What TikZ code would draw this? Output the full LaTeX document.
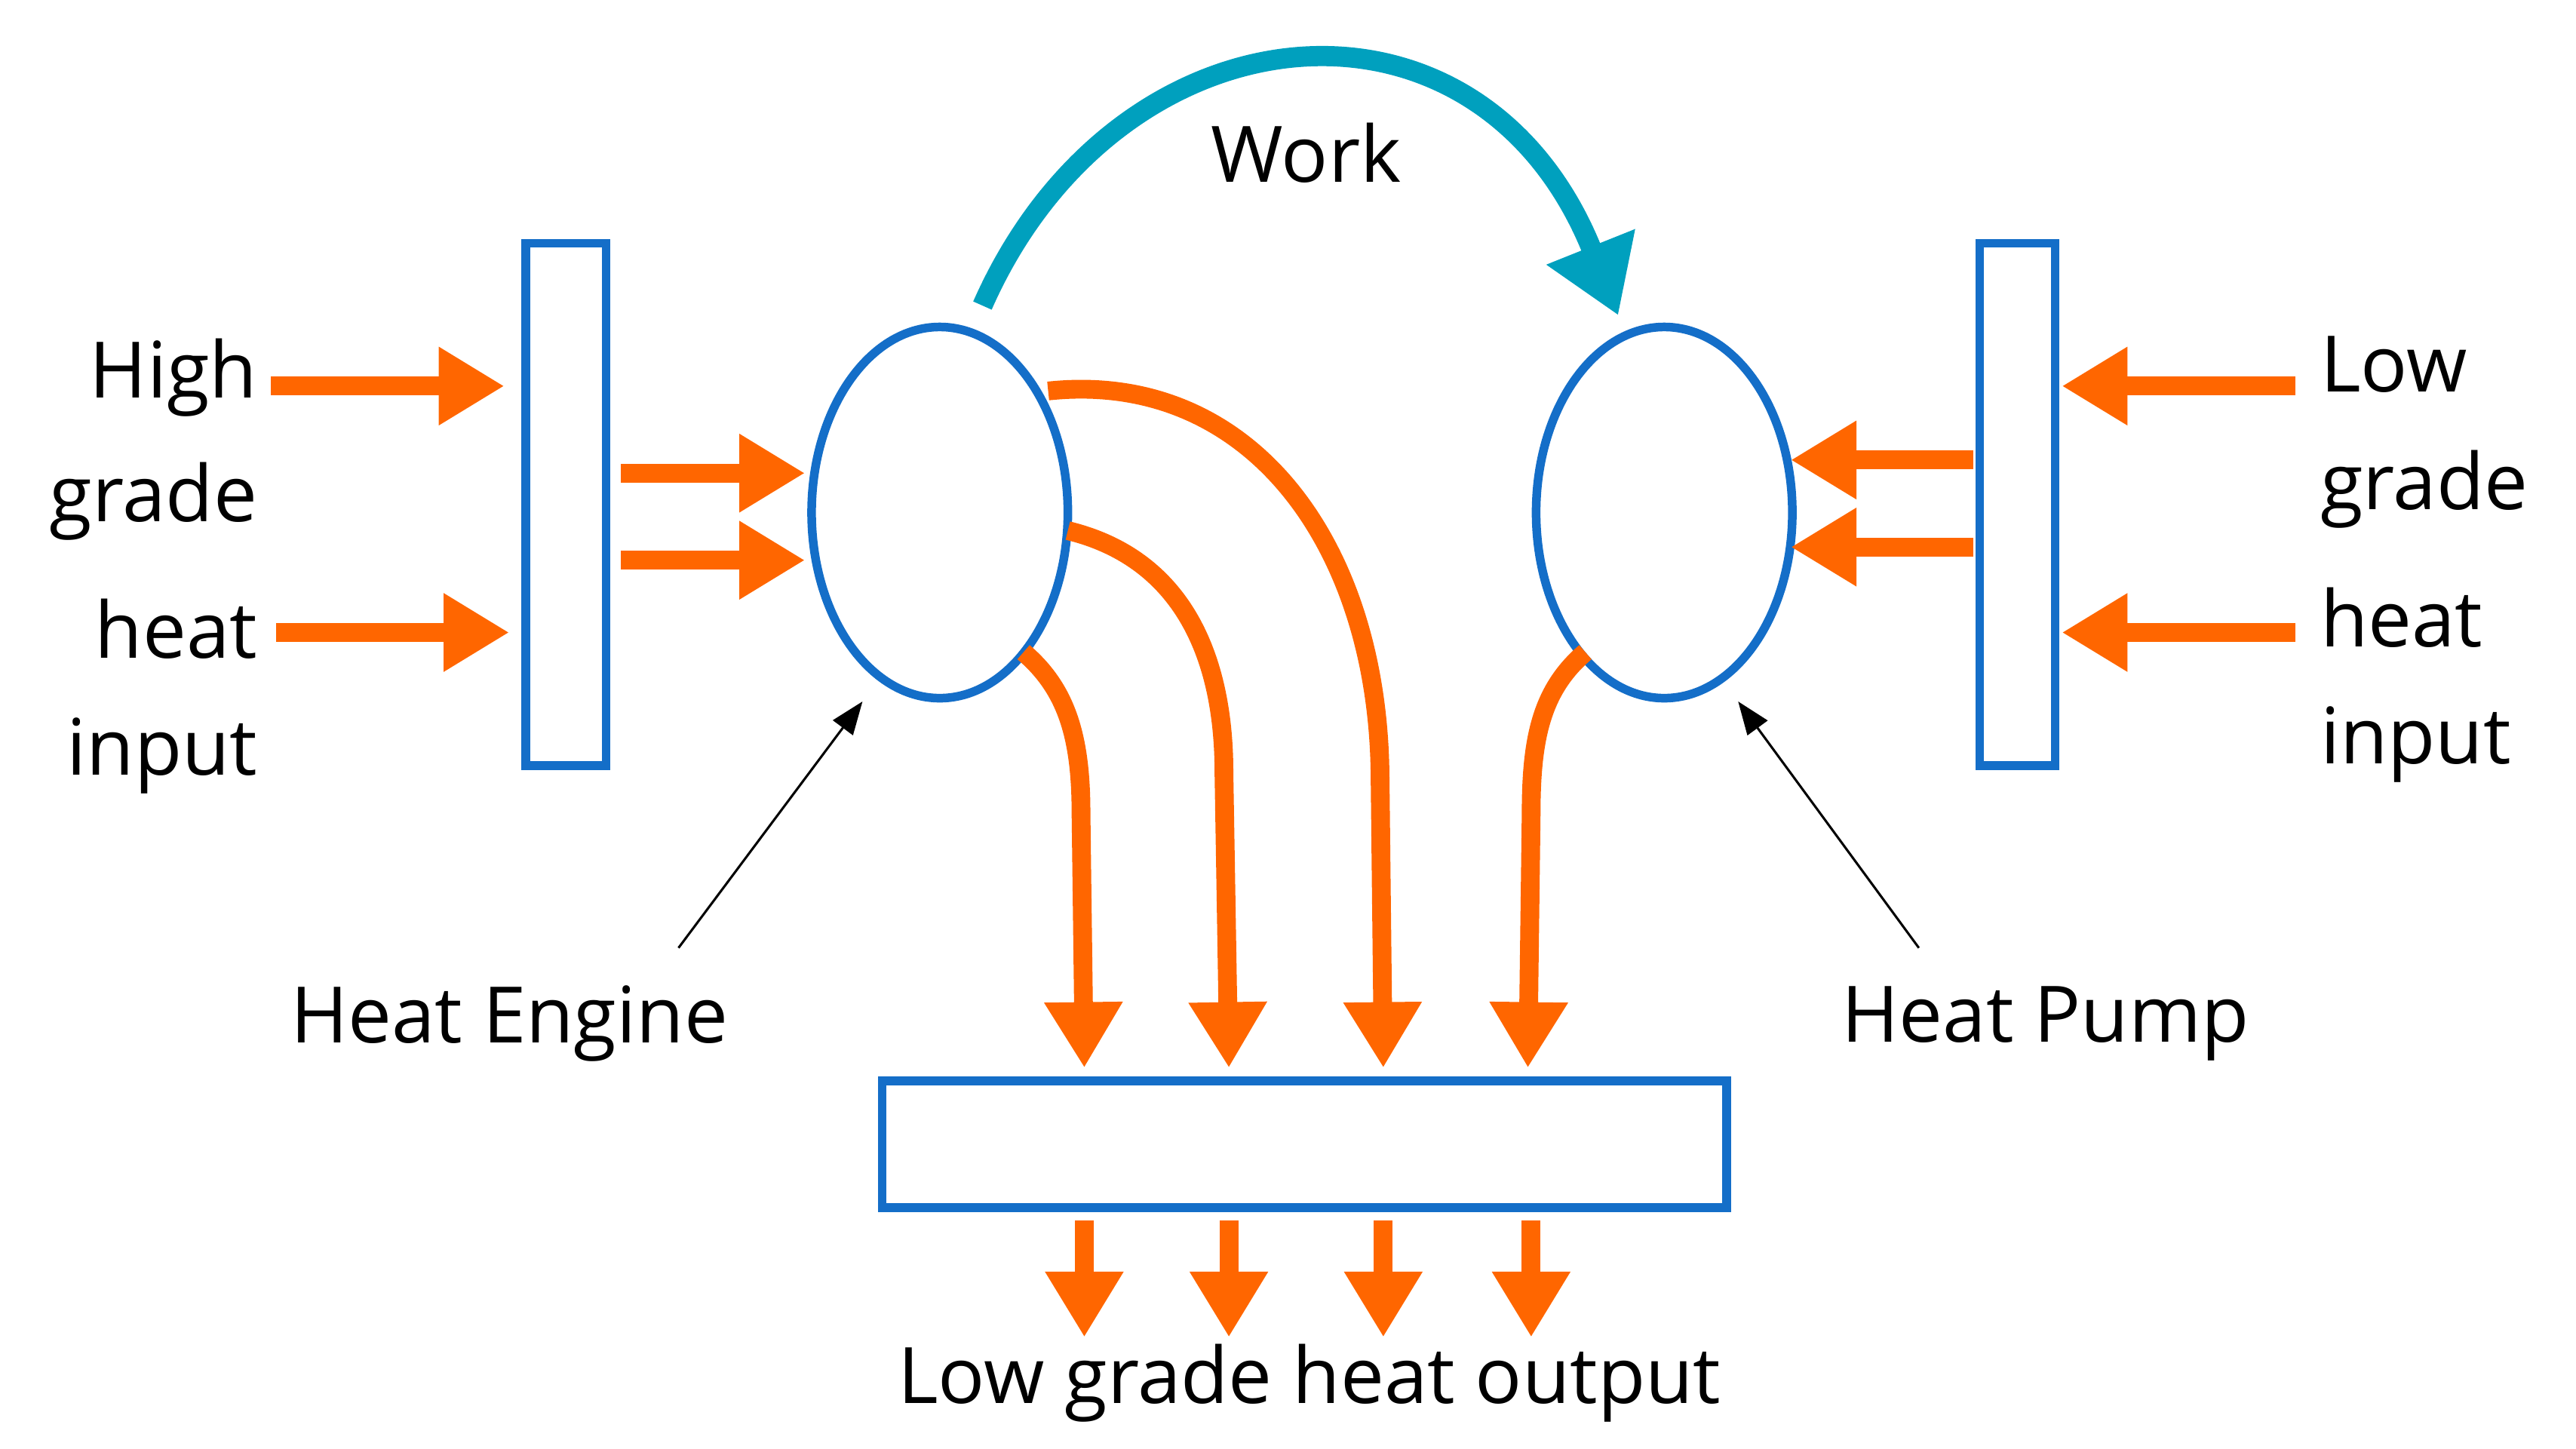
\documentclass[tikz,border=0pt]{standalone}
\usepackage{fontspec}
\setmainfont{Open Sans}
\usetikzlibrary{arrows.meta,shapes.geometric}
\definecolor{og}{RGB}{255,102,0}
\definecolor{bl}{RGB}{20,110,200}
\definecolor{tl}{RGB}{0,160,190}
\begin{document}
\begin{tikzpicture}[x=0.02cm,y=-0.02cm,
 box/.style={draw=bl,line width=3pt,inner sep=0,fill=white},
 heat/.style={draw=og,line width=6.5pt,-{Triangle[width=0.9cm,length=0.8cm]}},
 txt/.style={font=\fontsize{27}{30}\selectfont,inner sep=0},
 pointer/.style={draw=black,line width=0.8pt,-{Triangle[width=0.3cm,length=0.4cm]}}]
\useasboundingbox (0,0) rectangle (1568,882);
\node[box,minimum width=0.98cm,minimum height=6.36cm] (L) at (344.5,307) {};
\node[box,minimum width=0.92cm,minimum height=6.36cm] (R) at (1228,307) {};
\node[box,minimum width=10.28cm,minimum height=1.54cm] (B) at (794,696.5) {};
\node[box,ellipse,minimum width=3.12cm,minimum height=4.52cm] (E) at (572,312) {};
\node[box,ellipse,minimum width=3.12cm,minimum height=4.52cm] (P) at (1013,312) {};
% texts
\node[txt,anchor=east] (h1) at (157,230) {High};
\node[txt,anchor=east] (h2) at (157,305) {grade};
\node[txt,anchor=east] (h3) at (157,383) {heat};
\node[txt,anchor=east] (h4) at (157,460) {input};
\node[txt,anchor=west] (l1) at (1412,222) {Low};
\node[txt,anchor=west] (l2) at (1412,298) {grade};
\node[txt,anchor=west] (l3) at (1412,376) {heat};
\node[txt,anchor=west] (l4) at (1412,453) {input};
\node[txt] (W) at (795,93) {Work};
\node[txt] (HE) at (310,623) {Heat Engine};
\node[txt] (HP) at (1245,623) {Heat Pump};
\node[txt] (O) at (797,842) {Low grade heat output};
% coordinates
\coordinate (a1) at (165,235); \coordinate (a1e) at (307,235);
\coordinate (a2) at (168,385); \coordinate (a2e) at (310,385);
\coordinate (a3) at (378,288); \coordinate (a3e) at (490,288);
\coordinate (a4) at (378,341); \coordinate (a4e) at (490,341);
\coordinate (b1) at (1397,235); \coordinate (b1e) at (1255,235);
\coordinate (b2) at (1397,385); \coordinate (b2e) at (1255,385);
\coordinate (b3) at (1201,280); \coordinate (b3e) at (1090,280);
\coordinate (b4) at (1201,333); \coordinate (b4e) at (1090,333);
\draw[heat] (a1)--(a1e); \draw[heat] (a2)--(a2e);
\draw[heat] (a3)--(a3e); \draw[heat] (a4)--(a4e);
\draw[heat] (b1)--(b1e); \draw[heat] (b2)--(b2e);
\draw[heat] (b3)--(b3e); \draw[heat] (b4)--(b4e);
% curved
\coordinate (c1) at (623,397); \coordinate (c1e) at (660,650);
\coordinate (c2) at (650,323); \coordinate (c2e) at (748,650);
\coordinate (c3) at (638,238); \coordinate (c3e) at (842,650);
\coordinate (c4) at (965,397); \coordinate (c4e) at (930,650);
\draw[heat] (c1) .. controls (650,420) and (658,450) .. (658,495) -- (c1e);
\draw[heat] (c2) .. controls (720,340) and (745,400) .. (745,470) -- (c2e);
\draw[heat] (c3) .. controls (760,225) and (838,330) .. (840,470) -- (c3e);
\draw[heat] (c4) .. controls (938,420) and (932,450) .. (932,495) -- (c4e);
% outputs
\foreach \x/\n in {660/1,748/2,842/3,932/4}{
 \coordinate (o\n) at (\x,743); \coordinate (o\n e) at (\x,814);
 \draw[heat] (o\n)--(o\n e);}
% work
\coordinate (w1) at (598,186); \coordinate (w2) at (985,192);
\draw[draw=tl,line width=7pt,-{Triangle[width=1.1cm,length=0.9cm]}] (w1) .. controls (680,0) and (900,-20) .. (w2);
% pointers
\coordinate (p1) at (413,577); \coordinate (p1e) at (525,427);
\coordinate (p2) at (1168,577); \coordinate (p2e) at (1058,427);
\draw[pointer] (p1)--(p1e); \draw[pointer] (p2)--(p2e);
\end{tikzpicture}
\end{document}
